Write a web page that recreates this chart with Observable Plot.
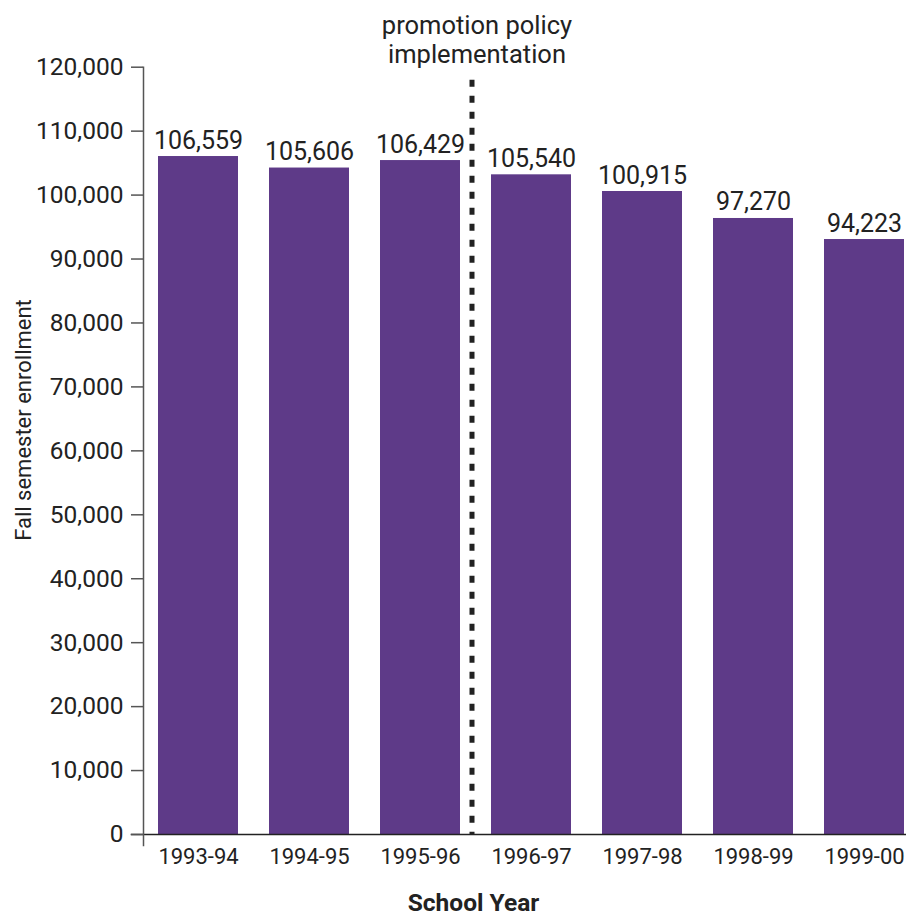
<!DOCTYPE html>
<html>
<head>
<meta charset="utf-8">
<script src="https://cdn.jsdelivr.net/npm/d3@7"></script>
<script src="https://cdn.jsdelivr.net/npm/@observablehq/plot@0.6"></script>
<style>
  html, body { margin: 0; padding: 0; background: #fff; }
  #chart svg { display: block; font-family: Roboto, "Open Sans", sans-serif; }
</style>
</head>
<body>
<div id="chart"></div>
<script>
// School years (categories)
const years = ["1993-94", "1994-95", "1995-96", "1996-97", "1997-98", "1998-99", "1999-00"];
// Bar heights as drawn in the picture
const enrollment = [106030, 104230, 105400, 103170, 100560, 96340, 93050];
// Value labels printed above the bars
const valueLabels = ["106,559", "105,606", "106,429", "105,540", "100,915", "97,270", "94,223"];
// Y axis ticks
const yTicks = [0, 10000, 20000, 30000, 40000, 50000, 60000, 70000, 80000, 90000, 100000, 110000, 120000];
const policyYear = "1996-97";
const annotation = "promotion policy\nimplementation";
const xTitle = "School Year";
const yTitle = "Fall semester enrollment";

const data = years.map((year, i) => ({year, value: enrollment[i], label: valueLabels[i]}));

const purple = "#5e3a88";
const ink = "#222";
const fmt = d3.format(",");

const chart = Plot.plot({
  width: 906,
  height: 915,
  marginLeft: 143,
  marginRight: 0,
  marginTop: 66.7,
  marginBottom: 81,
  style: {fontFamily: "Roboto, 'Open Sans', sans-serif", color: ink, background: "#fff"},
  x: {domain: years, range: [156.7, 905.6], paddingInner: 0.283, paddingOuter: 0, axis: null},
  y: {domain: [0, 120000], axis: null},
  marks: [
    Plot.barY(data, {x: "year", y: "value", fill: purple}),
    Plot.ruleY([0], {stroke: ink, strokeWidth: 1.5, insetLeft: -12.3}),
    Plot.frame({anchor: "left", stroke: "#555", strokeWidth: 1.5, insetBottom: -11}),
    Plot.axisY({ticks: yTicks, tickFormat: fmt, tickSize: 12, tickPadding: 8, fontSize: 24.5, stroke: "#555", strokeWidth: 1.5, fill: ink, label: null}),
    Plot.axisX({tickSize: 0, tickPadding: 14, fontSize: 22, fill: ink, label: null}),
    Plot.text(data, {x: "year", y: "value", text: "label", dy: -8, lineAnchor: "bottom", fontSize: 25, fill: ink}),
    Plot.ruleX([policyYear], {dx: -59.5, y1: 120000, y2: 0, insetTop: 13, stroke: ink, strokeWidth: 5, strokeDasharray: "7,9"}),
    Plot.text([annotation], {x: () => policyYear, frameAnchor: "top", dx: -54.5, dy: -3.7, lineAnchor: "bottom", lineHeight: 1.17, fontSize: 25.5, fill: ink}),
    Plot.text([xTitle], {frameAnchor: "bottom", dx: -51.5, dy: 76, lineAnchor: "bottom", fontSize: 24.5, fontWeight: "bold", fill: ink}),
    Plot.text([yTitle], {frameAnchor: "left", rotate: -90, dx: -120, dy: 90, fontSize: 22, fill: ink})
  ]
});
document.getElementById("chart").append(chart);
</script>
</body>
</html>
